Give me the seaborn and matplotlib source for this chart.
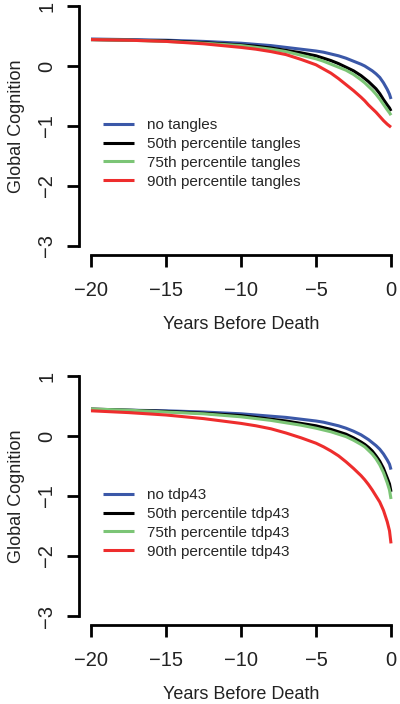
import numpy as np
import pandas as pd
import matplotlib
matplotlib.use("Agg")
import matplotlib.pyplot as plt
import seaborn as sns

years = [-20, -17.5, -15, -12.5, -10, -9, -8, -7, -6, -5, -4.5, -4, -3.5, -3,
         -2.5, -2, -1.75, -1.5, -1.25, -1, -0.75, -0.5, -0.25, -0.1, 0]

# Top panel: tangles
tang_none = [0.45, 0.44, 0.43, 0.41, 0.38, 0.36, 0.34, 0.31, 0.28, 0.25, 0.23, 0.20, 0.17, 0.13,
             0.08, 0.03, 0.00, -0.04, -0.08, -0.13, -0.19, -0.28, -0.39, -0.47, -0.55]
tang_50 = [0.44, 0.43, 0.42, 0.39, 0.35, 0.33, 0.30, 0.26, 0.22, 0.17, 0.13, 0.09, 0.04, -0.02,
           -0.08, -0.16, -0.21, -0.26, -0.32, -0.38, -0.46, -0.56, -0.65, -0.70, -0.75]
tang_75 = [0.44, 0.43, 0.41, 0.38, 0.34, 0.31, 0.28, 0.24, 0.18, 0.12, 0.08, 0.03, -0.02, -0.07,
           -0.14, -0.23, -0.28, -0.34, -0.40, -0.47, -0.55, -0.64, -0.73, -0.78, -0.82]
tang_90 = [0.44, 0.43, 0.41, 0.37, 0.31, 0.28, 0.24, 0.19, 0.11, 0.02, -0.05, -0.12, -0.21, -0.31,
           -0.41, -0.52, -0.58, -0.65, -0.71, -0.77, -0.84, -0.91, -0.97, -1.00, -1.02]
tang_labels = ["no tangles", "50th percentile tangles", "75th percentile tangles", "90th percentile tangles"]

# Bottom panel: tdp43
tdp_none = [0.44, 0.43, 0.42, 0.40, 0.37, 0.35, 0.33, 0.31, 0.28, 0.25, 0.23, 0.20, 0.17, 0.13,
            0.08, 0.02, -0.02, -0.06, -0.11, -0.16, -0.22, -0.30, -0.40, -0.47, -0.56]
tdp_50 = [0.45, 0.43, 0.41, 0.38, 0.34, 0.31, 0.28, 0.25, 0.21, 0.17, 0.14, 0.11, 0.07, 0.03,
          -0.03, -0.10, -0.14, -0.19, -0.25, -0.33, -0.42, -0.54, -0.70, -0.80, -0.93]
tdp_75 = [0.45, 0.43, 0.40, 0.37, 0.32, 0.29, 0.26, 0.22, 0.18, 0.13, 0.10, 0.07, 0.03, -0.01,
          -0.07, -0.14, -0.18, -0.24, -0.30, -0.38, -0.48, -0.61, -0.78, -0.90, -1.05]
tdp_90 = [0.42, 0.39, 0.35, 0.29, 0.21, 0.17, 0.12, 0.05, -0.03, -0.12, -0.18, -0.25, -0.33, -0.43,
          -0.54, -0.66, -0.73, -0.81, -0.90, -1.00, -1.10, -1.24, -1.43, -1.58, -1.79]
tdp_labels = ["no tdp43", "50th percentile tdp43", "75th percentile tdp43", "90th percentile tdp43"]

x_ticks = [-20, -15, -10, -5, 0]
y_ticks = [-3, -2, -1, 0, 1]
x_label = "Years Before Death"
y_label = "Global Cognition"

colors = ["#3b58a8", "#000000", "#7cc576", "#ee2d2d"]

sns.set_theme(style="white")
plt.rcParams["font.family"] = ["Liberation Sans", "DejaVu Sans"]
plt.rcParams["axes.unicode_minus"] = True

W, H = 400, 704
fig = plt.figure(figsize=(W / 100, H / 100), dpi=100)


def make_df(series, labels):
    rows = []
    for s, lab in zip(series, labels):
        for x, y in zip(years, s):
            rows.append({"year": x, "value": y, "group": lab})
    return pd.DataFrame(rows)


def fmt(v):
    return str(v).replace("-", "\u2212")


def panel(top_px, series, labels, legend_top_px):
    ax = fig.add_axes([91 / W, 1 - (top_px + 240) / H, 300 / W, 240 / H])
    df = make_df(series, labels)
    sns.lineplot(data=df, x="year", y="value", hue="group", hue_order=labels,
                 palette=colors, sort=False, estimator=None, linewidth=2.2,
                 ax=ax, legend=True)
    for ln in ax.get_lines():
        ln.set_clip_on(False)
        ln.set_solid_capstyle("butt")
        ln.set_solid_joinstyle("round")
    ax.set_xlim(-20, 0)
    ax.set_ylim(-3, 1)
    ax.set_xticks(x_ticks)
    ax.set_yticks(y_ticks)
    ax.set_yticklabels([fmt(v) for v in y_ticks])
    ax.set_xticklabels([fmt(v) for v in x_ticks])
    for side in ["top", "right"]:
        ax.spines[side].set_visible(False)
    ax.spines["left"].set_position(("outward", 8.6))
    ax.spines["bottom"].set_position(("outward", 6.5))
    ax.spines["left"].set_bounds(-3, 1)
    ax.spines["bottom"].set_bounds(-20, 0)
    for side in ["left", "bottom"]:
        ax.spines[side].set_linewidth(2.0)
        ax.spines[side].set_color("black")
    ax.tick_params(axis="both", which="both", direction="out", length=8.5,
                   width=2.0, color="black", labelsize=14.5, labelcolor="#222222",
                   left=True, bottom=True)
    ax.tick_params(axis="x", pad=10)
    ax.tick_params(axis="y", pad=8, labelrotation=90)
    for t in ax.get_yticklabels():
        t.set_verticalalignment("center")
    ax.set_xlabel(x_label, fontsize=13, color="#222222", labelpad=12)
    ax.set_ylabel(y_label, fontsize=13, color="#222222", labelpad=9)
    ax.patch.set_visible(False)
    handles, labs = ax.get_legend_handles_labels()
    ax.legend(handles, labs, loc="upper left",
              bbox_to_anchor=(103 / W, 1 - legend_top_px / H),
              bbox_transform=fig.transFigure, frameon=False, fontsize=11,
              handlelength=2.0, handletextpad=0.85, labelspacing=0.32,
              borderpad=0, borderaxespad=0)
    return ax


panel(6, [tang_none, tang_50, tang_75, tang_90], tang_labels, 118)
panel(376, [tdp_none, tdp_50, tdp_75, tdp_90], tdp_labels, 488)

fig.savefig("out.png", dpi=100)
